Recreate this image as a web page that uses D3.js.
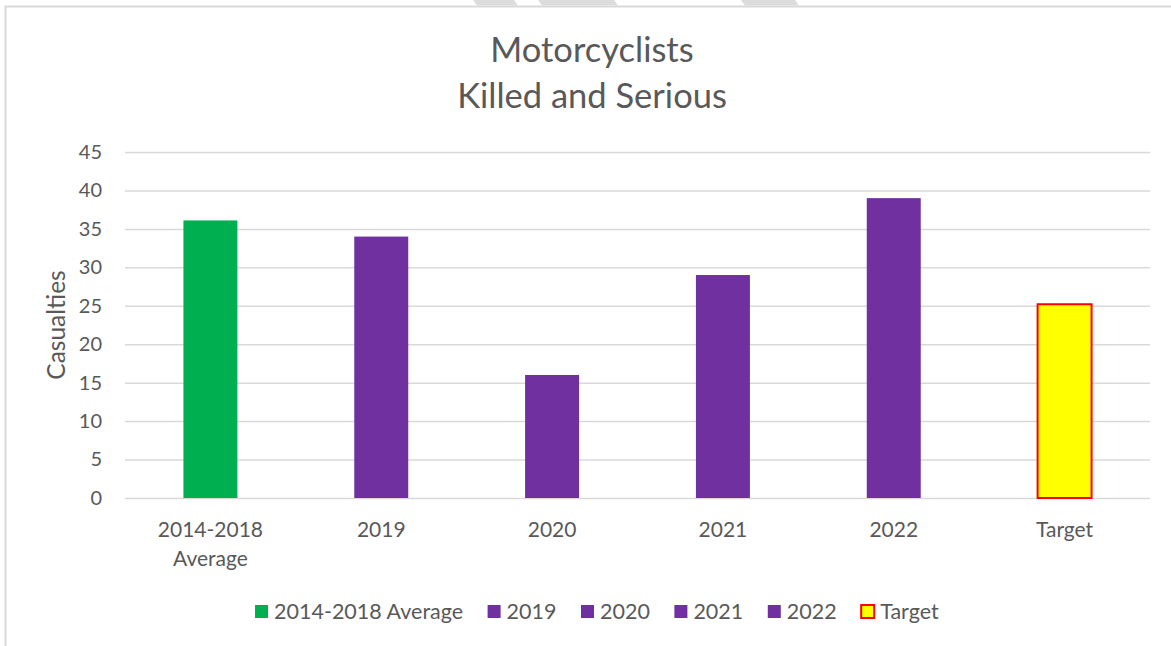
<!DOCTYPE html>
<html>
<head>
<meta charset="utf-8">
<script src="https://cdn.jsdelivr.net/npm/d3@7"></script>
<style>
  html, body { margin: 0; padding: 0; background: #fff; }
  svg { display: block; font-family: Lato, "Open Sans", sans-serif; }
</style>
</head>
<body>
<svg id="chart" width="1171" height="646"></svg>
<script>
// chart data
const categories = ["2014-2018 Average", "2019", "2020", "2021", "2022", "Target"];
const axisLabels = [["2014-2018", "Average"], ["2019"], ["2020"], ["2021"], ["2022"], ["Target"]];
const values = [36.1, 34, 16, 29, 39, 25.2];
const fills = ["#00B050", "#7030A0", "#7030A0", "#7030A0", "#7030A0", "#FFFF00"];
const strokes = ["none", "none", "none", "none", "none", "#FF0000"];
const yTicks = [0, 5, 10, 15, 20, 25, 30, 35, 40, 45];
const titleLines = ["Motorcyclists", "Killed and Serious"];

const svg = d3.select("#chart");
const textColor = "#595959";
const gridColor = "#D9D9D9";

// outer frame (cropped chart area)
svg.append("path")
    .attr("d", "M5.5,646 L5.5,6.5 L1171,6.5")
    .attr("fill", "none")
    .attr("stroke", gridColor)
    .attr("stroke-width", 2);

// bits of a shape above the frame, cut by the crop
const slants = [[473, 514], [538, 614], [741, 795]];
svg.append("g").selectAll("polygon").data(slants).join("polygon")
    .attr("points", d => `${d[0]},0 ${d[1]},0 ${d[1] + 4},5.5 ${d[0] + 4},5.5`)
    .attr("fill", "#DCDCDC");

// scales
const x = d3.scaleBand()
    .domain(categories)
    .range([125, 1150])
    .paddingInner(0.684)
    .paddingOuter(0.342);

const y = d3.scaleLinear()
    .domain([0, 45])
    .range([498, 152]);

// title
svg.append("g").selectAll("text").data(titleLines).join("text")
    .attr("x", 592)
    .attr("y", (d, i) => 62 + i * 46)
    .attr("text-anchor", "middle")
    .attr("font-size", 34.5)
    .attr("fill", textColor)
    .text(d => d);

// gridlines
svg.append("g").selectAll("line").data(yTicks).join("line")
    .attr("x1", 125).attr("x2", 1150)
    .attr("y1", d => y(d) + 0.5).attr("y2", d => y(d) + 0.5)
    .attr("stroke", gridColor)
    .attr("stroke-width", 1.5);

// y axis tick labels
const yAxis = d3.axisLeft(y).tickValues(yTicks).tickSize(0).tickPadding(0);
svg.append("g")
    .attr("transform", "translate(102,0)")
    .call(yAxis)
    .call(g => g.select(".domain").remove())
    .call(g => g.selectAll("text")
        .attr("fill", textColor)
        .attr("font-size", 20)
        .attr("font-family", "Lato, sans-serif"));

// y axis title
svg.append("text")
    .attr("transform", "translate(65,325) rotate(-90)")
    .attr("text-anchor", "middle")
    .attr("font-size", 24.5)
    .attr("fill", textColor)
    .text("Casualties");

// bars
svg.append("g").selectAll("rect").data(categories).join("rect")
    .attr("x", d => x(d))
    .attr("y", (d, i) => y(values[i]))
    .attr("width", x.bandwidth())
    .attr("height", (d, i) => y(0) - y(values[i]))
    .attr("fill", (d, i) => fills[i])
    .attr("stroke", (d, i) => strokes[i])
    .attr("stroke-width", 2);

// category labels
const catG = svg.append("g").selectAll("text").data(categories).join("text")
    .attr("x", d => x(d) + x.bandwidth() / 2)
    .attr("y", 537)
    .attr("text-anchor", "middle")
    .attr("font-size", 21)
    .attr("fill", textColor);
catG.selectAll("tspan").data((d, i) => axisLabels[i]).join("tspan")
    .attr("x", function() { return this.parentNode.getAttribute("x"); })
    .attr("dy", (d, i) => i === 0 ? 0 : 29)
    .text(d => d);

// legend
const legend = svg.append("g");
const items = legend.selectAll("g").data(categories).join("g");
items.append("rect")
    .attr("width", 13).attr("height", 13)
    .attr("y", -14)
    .attr("fill", (d, i) => fills[i])
    .attr("stroke", (d, i) => strokes[i])
    .attr("stroke-width", 2);
items.append("text")
    .attr("x", 19)
    .attr("font-size", 21.5)
    .attr("fill", textColor)
    .text(d => d);

let widths = [];
items.each(function() { widths.push(this.getBBox().width); });
const gap = 24.5;
const total = d3.sum(widths) + gap * (widths.length - 1);
let pos = 597 - total / 2;
items.attr("transform", (d, i) => {
    const t = `translate(${pos},619)`;
    pos += widths[i] + gap;
    return t;
});
</script>
</body>
</html>
